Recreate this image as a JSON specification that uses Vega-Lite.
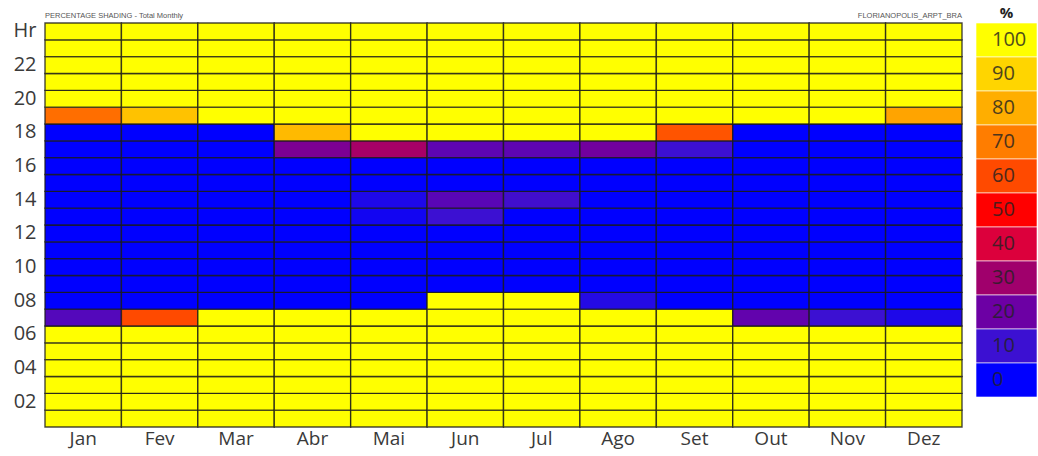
{
  "$schema": "https://vega.github.io/schema/vega-lite/v6.json",
  "background": "white",
  "padding": {"left": 13, "top": 5, "right": 2, "bottom": 5},
  "spacing": 12,
  "config": {
    "view": {"stroke": null},
    "axis": {"labelFont": "Open Sans", "labelFontSize": 20, "labelColor": "#3a3a3a"}
  },
  "datasets": {
    "cells": [
      {"month":"Jan","hour":1,"pct":100},{"month":"Jan","hour":2,"pct":100},{"month":"Jan","hour":3,"pct":100},{"month":"Jan","hour":4,"pct":100},{"month":"Jan","hour":5,"pct":100},{"month":"Jan","hour":6,"pct":100},{"month":"Jan","hour":7,"pct":15},{"month":"Jan","hour":8,"pct":0},{"month":"Jan","hour":9,"pct":0},{"month":"Jan","hour":10,"pct":0},{"month":"Jan","hour":11,"pct":0},{"month":"Jan","hour":12,"pct":0},{"month":"Jan","hour":13,"pct":0},{"month":"Jan","hour":14,"pct":0},{"month":"Jan","hour":15,"pct":0},{"month":"Jan","hour":16,"pct":0},{"month":"Jan","hour":17,"pct":0},{"month":"Jan","hour":18,"pct":0},{"month":"Jan","hour":19,"pct":67},{"month":"Jan","hour":20,"pct":100},{"month":"Jan","hour":21,"pct":100},{"month":"Jan","hour":22,"pct":100},{"month":"Jan","hour":23,"pct":100},{"month":"Jan","hour":24,"pct":100},
      {"month":"Fev","hour":1,"pct":100},{"month":"Fev","hour":2,"pct":100},{"month":"Fev","hour":3,"pct":100},{"month":"Fev","hour":4,"pct":100},{"month":"Fev","hour":5,"pct":100},{"month":"Fev","hour":6,"pct":100},{"month":"Fev","hour":7,"pct":60},{"month":"Fev","hour":8,"pct":0},{"month":"Fev","hour":9,"pct":0},{"month":"Fev","hour":10,"pct":0},{"month":"Fev","hour":11,"pct":0},{"month":"Fev","hour":12,"pct":0},{"month":"Fev","hour":13,"pct":0},{"month":"Fev","hour":14,"pct":0},{"month":"Fev","hour":15,"pct":0},{"month":"Fev","hour":16,"pct":0},{"month":"Fev","hour":17,"pct":0},{"month":"Fev","hour":18,"pct":0},{"month":"Fev","hour":19,"pct":85},{"month":"Fev","hour":20,"pct":100},{"month":"Fev","hour":21,"pct":100},{"month":"Fev","hour":22,"pct":100},{"month":"Fev","hour":23,"pct":100},{"month":"Fev","hour":24,"pct":100},
      {"month":"Mar","hour":1,"pct":100},{"month":"Mar","hour":2,"pct":100},{"month":"Mar","hour":3,"pct":100},{"month":"Mar","hour":4,"pct":100},{"month":"Mar","hour":5,"pct":100},{"month":"Mar","hour":6,"pct":100},{"month":"Mar","hour":7,"pct":100},{"month":"Mar","hour":8,"pct":0},{"month":"Mar","hour":9,"pct":0},{"month":"Mar","hour":10,"pct":0},{"month":"Mar","hour":11,"pct":0},{"month":"Mar","hour":12,"pct":0},{"month":"Mar","hour":13,"pct":0},{"month":"Mar","hour":14,"pct":0},{"month":"Mar","hour":15,"pct":0},{"month":"Mar","hour":16,"pct":0},{"month":"Mar","hour":17,"pct":0},{"month":"Mar","hour":18,"pct":0},{"month":"Mar","hour":19,"pct":100},{"month":"Mar","hour":20,"pct":100},{"month":"Mar","hour":21,"pct":100},{"month":"Mar","hour":22,"pct":100},{"month":"Mar","hour":23,"pct":100},{"month":"Mar","hour":24,"pct":100},
      {"month":"Abr","hour":1,"pct":100},{"month":"Abr","hour":2,"pct":100},{"month":"Abr","hour":3,"pct":100},{"month":"Abr","hour":4,"pct":100},{"month":"Abr","hour":5,"pct":100},{"month":"Abr","hour":6,"pct":100},{"month":"Abr","hour":7,"pct":100},{"month":"Abr","hour":8,"pct":0},{"month":"Abr","hour":9,"pct":0},{"month":"Abr","hour":10,"pct":0},{"month":"Abr","hour":11,"pct":0},{"month":"Abr","hour":12,"pct":0},{"month":"Abr","hour":13,"pct":0},{"month":"Abr","hour":14,"pct":0},{"month":"Abr","hour":15,"pct":0},{"month":"Abr","hour":16,"pct":0},{"month":"Abr","hour":17,"pct":23},{"month":"Abr","hour":18,"pct":83},{"month":"Abr","hour":19,"pct":100},{"month":"Abr","hour":20,"pct":100},{"month":"Abr","hour":21,"pct":100},{"month":"Abr","hour":22,"pct":100},{"month":"Abr","hour":23,"pct":100},{"month":"Abr","hour":24,"pct":100},
      {"month":"Mai","hour":1,"pct":100},{"month":"Mai","hour":2,"pct":100},{"month":"Mai","hour":3,"pct":100},{"month":"Mai","hour":4,"pct":100},{"month":"Mai","hour":5,"pct":100},{"month":"Mai","hour":6,"pct":100},{"month":"Mai","hour":7,"pct":100},{"month":"Mai","hour":8,"pct":0},{"month":"Mai","hour":9,"pct":0},{"month":"Mai","hour":10,"pct":0},{"month":"Mai","hour":11,"pct":0},{"month":"Mai","hour":12,"pct":0},{"month":"Mai","hour":13,"pct":3},{"month":"Mai","hour":14,"pct":5},{"month":"Mai","hour":15,"pct":0},{"month":"Mai","hour":16,"pct":0},{"month":"Mai","hour":17,"pct":31},{"month":"Mai","hour":18,"pct":100},{"month":"Mai","hour":19,"pct":100},{"month":"Mai","hour":20,"pct":100},{"month":"Mai","hour":21,"pct":100},{"month":"Mai","hour":22,"pct":100},{"month":"Mai","hour":23,"pct":100},{"month":"Mai","hour":24,"pct":100},
      {"month":"Jun","hour":1,"pct":100},{"month":"Jun","hour":2,"pct":100},{"month":"Jun","hour":3,"pct":100},{"month":"Jun","hour":4,"pct":100},{"month":"Jun","hour":5,"pct":100},{"month":"Jun","hour":6,"pct":100},{"month":"Jun","hour":7,"pct":100},{"month":"Jun","hour":8,"pct":100},{"month":"Jun","hour":9,"pct":0},{"month":"Jun","hour":10,"pct":0},{"month":"Jun","hour":11,"pct":0},{"month":"Jun","hour":12,"pct":0},{"month":"Jun","hour":13,"pct":10},{"month":"Jun","hour":14,"pct":16},{"month":"Jun","hour":15,"pct":0},{"month":"Jun","hour":16,"pct":0},{"month":"Jun","hour":17,"pct":17},{"month":"Jun","hour":18,"pct":100},{"month":"Jun","hour":19,"pct":100},{"month":"Jun","hour":20,"pct":100},{"month":"Jun","hour":21,"pct":100},{"month":"Jun","hour":22,"pct":100},{"month":"Jun","hour":23,"pct":100},{"month":"Jun","hour":24,"pct":100},
      {"month":"Jul","hour":1,"pct":100},{"month":"Jul","hour":2,"pct":100},{"month":"Jul","hour":3,"pct":100},{"month":"Jul","hour":4,"pct":100},{"month":"Jul","hour":5,"pct":100},{"month":"Jul","hour":6,"pct":100},{"month":"Jul","hour":7,"pct":100},{"month":"Jul","hour":8,"pct":100},{"month":"Jul","hour":9,"pct":0},{"month":"Jul","hour":10,"pct":0},{"month":"Jul","hour":11,"pct":0},{"month":"Jul","hour":12,"pct":0},{"month":"Jul","hour":13,"pct":0},{"month":"Jul","hour":14,"pct":11},{"month":"Jul","hour":15,"pct":0},{"month":"Jul","hour":16,"pct":0},{"month":"Jul","hour":17,"pct":17},{"month":"Jul","hour":18,"pct":100},{"month":"Jul","hour":19,"pct":100},{"month":"Jul","hour":20,"pct":100},{"month":"Jul","hour":21,"pct":100},{"month":"Jul","hour":22,"pct":100},{"month":"Jul","hour":23,"pct":100},{"month":"Jul","hour":24,"pct":100},
      {"month":"Ago","hour":1,"pct":100},{"month":"Ago","hour":2,"pct":100},{"month":"Ago","hour":3,"pct":100},{"month":"Ago","hour":4,"pct":100},{"month":"Ago","hour":5,"pct":100},{"month":"Ago","hour":6,"pct":100},{"month":"Ago","hour":7,"pct":100},{"month":"Ago","hour":8,"pct":6},{"month":"Ago","hour":9,"pct":0},{"month":"Ago","hour":10,"pct":0},{"month":"Ago","hour":11,"pct":0},{"month":"Ago","hour":12,"pct":0},{"month":"Ago","hour":13,"pct":0},{"month":"Ago","hour":14,"pct":0},{"month":"Ago","hour":15,"pct":0},{"month":"Ago","hour":16,"pct":0},{"month":"Ago","hour":17,"pct":21},{"month":"Ago","hour":18,"pct":100},{"month":"Ago","hour":19,"pct":100},{"month":"Ago","hour":20,"pct":100},{"month":"Ago","hour":21,"pct":100},{"month":"Ago","hour":22,"pct":100},{"month":"Ago","hour":23,"pct":100},{"month":"Ago","hour":24,"pct":100},
      {"month":"Set","hour":1,"pct":100},{"month":"Set","hour":2,"pct":100},{"month":"Set","hour":3,"pct":100},{"month":"Set","hour":4,"pct":100},{"month":"Set","hour":5,"pct":100},{"month":"Set","hour":6,"pct":100},{"month":"Set","hour":7,"pct":100},{"month":"Set","hour":8,"pct":0},{"month":"Set","hour":9,"pct":0},{"month":"Set","hour":10,"pct":0},{"month":"Set","hour":11,"pct":0},{"month":"Set","hour":12,"pct":0},{"month":"Set","hour":13,"pct":0},{"month":"Set","hour":14,"pct":0},{"month":"Set","hour":15,"pct":0},{"month":"Set","hour":16,"pct":0},{"month":"Set","hour":17,"pct":10},{"month":"Set","hour":18,"pct":62},{"month":"Set","hour":19,"pct":100},{"month":"Set","hour":20,"pct":100},{"month":"Set","hour":21,"pct":100},{"month":"Set","hour":22,"pct":100},{"month":"Set","hour":23,"pct":100},{"month":"Set","hour":24,"pct":100},
      {"month":"Out","hour":1,"pct":100},{"month":"Out","hour":2,"pct":100},{"month":"Out","hour":3,"pct":100},{"month":"Out","hour":4,"pct":100},{"month":"Out","hour":5,"pct":100},{"month":"Out","hour":6,"pct":100},{"month":"Out","hour":7,"pct":18},{"month":"Out","hour":8,"pct":0},{"month":"Out","hour":9,"pct":0},{"month":"Out","hour":10,"pct":0},{"month":"Out","hour":11,"pct":0},{"month":"Out","hour":12,"pct":0},{"month":"Out","hour":13,"pct":0},{"month":"Out","hour":14,"pct":0},{"month":"Out","hour":15,"pct":0},{"month":"Out","hour":16,"pct":0},{"month":"Out","hour":17,"pct":0},{"month":"Out","hour":18,"pct":0},{"month":"Out","hour":19,"pct":100},{"month":"Out","hour":20,"pct":100},{"month":"Out","hour":21,"pct":100},{"month":"Out","hour":22,"pct":100},{"month":"Out","hour":23,"pct":100},{"month":"Out","hour":24,"pct":100},
      {"month":"Nov","hour":1,"pct":100},{"month":"Nov","hour":2,"pct":100},{"month":"Nov","hour":3,"pct":100},{"month":"Nov","hour":4,"pct":100},{"month":"Nov","hour":5,"pct":100},{"month":"Nov","hour":6,"pct":100},{"month":"Nov","hour":7,"pct":10},{"month":"Nov","hour":8,"pct":0},{"month":"Nov","hour":9,"pct":0},{"month":"Nov","hour":10,"pct":0},{"month":"Nov","hour":11,"pct":0},{"month":"Nov","hour":12,"pct":0},{"month":"Nov","hour":13,"pct":0},{"month":"Nov","hour":14,"pct":0},{"month":"Nov","hour":15,"pct":0},{"month":"Nov","hour":16,"pct":0},{"month":"Nov","hour":17,"pct":0},{"month":"Nov","hour":18,"pct":0},{"month":"Nov","hour":19,"pct":100},{"month":"Nov","hour":20,"pct":100},{"month":"Nov","hour":21,"pct":100},{"month":"Nov","hour":22,"pct":100},{"month":"Nov","hour":23,"pct":100},{"month":"Nov","hour":24,"pct":100},
      {"month":"Dez","hour":1,"pct":100},{"month":"Dez","hour":2,"pct":100},{"month":"Dez","hour":3,"pct":100},{"month":"Dez","hour":4,"pct":100},{"month":"Dez","hour":5,"pct":100},{"month":"Dez","hour":6,"pct":100},{"month":"Dez","hour":7,"pct":5},{"month":"Dez","hour":8,"pct":0},{"month":"Dez","hour":9,"pct":0},{"month":"Dez","hour":10,"pct":0},{"month":"Dez","hour":11,"pct":0},{"month":"Dez","hour":12,"pct":0},{"month":"Dez","hour":13,"pct":0},{"month":"Dez","hour":14,"pct":0},{"month":"Dez","hour":15,"pct":0},{"month":"Dez","hour":16,"pct":0},{"month":"Dez","hour":17,"pct":0},{"month":"Dez","hour":18,"pct":0},{"month":"Dez","hour":19,"pct":78},{"month":"Dez","hour":20,"pct":100},{"month":"Dez","hour":21,"pct":100},{"month":"Dez","hour":22,"pct":100},{"month":"Dez","hour":23,"pct":100},{"month":"Dez","hour":24,"pct":100}
    ],
    "legendRows": [
      {"pct":100,"col":"%"},{"pct":90,"col":"%"},{"pct":80,"col":"%"},{"pct":70,"col":"%"},{"pct":60,"col":"%"},{"pct":50,"col":"%"},{"pct":40,"col":"%"},{"pct":30,"col":"%"},{"pct":20,"col":"%"},{"pct":10,"col":"%"},{"pct":0,"col":"%"}
    ]
  },
  "hconcat": [
    {
      "width": 917,
      "height": 404,
      "layer": [
        {
          "data": {"name": "cells"},
          "mark": {"type": "rect", "stroke": "#1a1a1a", "strokeWidth": 1.4, "strokeOpacity": 0.8},
          "encoding": {
            "x": {"field": "month", "type": "nominal", "sort": ["Jan","Fev","Mar","Abr","Mai","Jun","Jul","Ago","Set","Out","Nov","Dez"], "scale": {"paddingInner": 0, "paddingOuter": 0}, "axis": {"title": null, "labelAngle": 0, "ticks": false, "domain": false, "labelPadding": 2, "labelFontSize": 19}},
            "y": {"field": "hour", "type": "ordinal", "sort": "descending", "scale": {"paddingInner": 0, "paddingOuter": 0}, "axis": {"title": null, "ticks": false, "domain": false, "labelPadding": 9, "labelExpr": "datum.value == 24 ? 'Hr' : (datum.value % 2 == 0 ? (datum.value < 10 ? '0' + datum.value : '' + datum.value) : '')"}},
            "color": {"field": "pct", "type": "quantitative", "scale": {"type": "linear", "domain": [0,10,20,30,40,50,60,70,80,90,100], "range": ["#0000ff","#3c10d2","#6c00a4","#a0006c","#dc003c","#ff0000","#ff4a00","#ff7d00","#ffae00","#ffd500","#ffff00"], "interpolate": "rgb"}, "legend": null}
          }
        },
        {
          "data": {"values": [{"note": "PERCENTAGE SHADING - Total Monthly"}]},
          "mark": {"type": "text", "align": "left", "baseline": "bottom", "dy": -3, "fontSize": 7.5, "font": "Liberation Sans", "color": "#555555"},
          "encoding": {
            "x": {"datum": "Jan", "bandPosition": 0},
            "y": {"datum": 24, "type": "ordinal", "bandPosition": 0},
            "text": {"field": "note"}
          }
        },
        {
          "data": {"values": [{"note": "FLORIANOPOLIS_ARPT_BRA"}]},
          "mark": {"type": "text", "align": "right", "baseline": "bottom", "dy": -3, "fontSize": 7.5, "font": "Liberation Sans", "color": "#555555"},
          "encoding": {
            "x": {"datum": "Dez", "bandPosition": 1},
            "y": {"datum": 24, "type": "ordinal", "bandPosition": 0},
            "text": {"field": "note"}
          }
        }
      ]
    },
    {
      "width": 61,
      "height": 374,
      "title": {"text": "%", "fontSize": 15, "fontWeight": "bold", "font": "Open Sans", "color": "#222222", "offset": 2},
      "data": {"name": "legendRows"},
      "encoding": {
        "y": {"field": "pct", "type": "ordinal", "sort": "descending", "scale": {"paddingInner": 0, "paddingOuter": 0}, "axis": null},
        "x": {"field": "col", "type": "nominal", "scale": {"paddingInner": 0, "paddingOuter": 0}, "axis": null}
      },
      "layer": [
        {
          "mark": {"type": "rect", "stroke": "#ffffff", "strokeWidth": 1, "strokeOpacity": 0.6},
          "encoding": {
            "color": {"field": "pct", "type": "quantitative", "scale": {"type": "linear", "domain": [0,10,20,30,40,50,60,70,80,90,100], "range": ["#0000ff","#3c10d2","#6c00a4","#a0006c","#dc003c","#ff0000","#ff4a00","#ff7d00","#ffae00","#ffd500","#ffff00"], "interpolate": "rgb"}, "legend": null}
          }
        },
        {
          "mark": {"type": "text", "align": "left", "dx": 16, "fontSize": 20, "font": "Open Sans", "color": "#222222", "opacity": 0.8},
          "encoding": {
            "x": {"field": "col", "type": "nominal", "bandPosition": 0, "axis": null},
            "text": {"field": "pct"}
          }
        }
      ]
    }
  ]
}
